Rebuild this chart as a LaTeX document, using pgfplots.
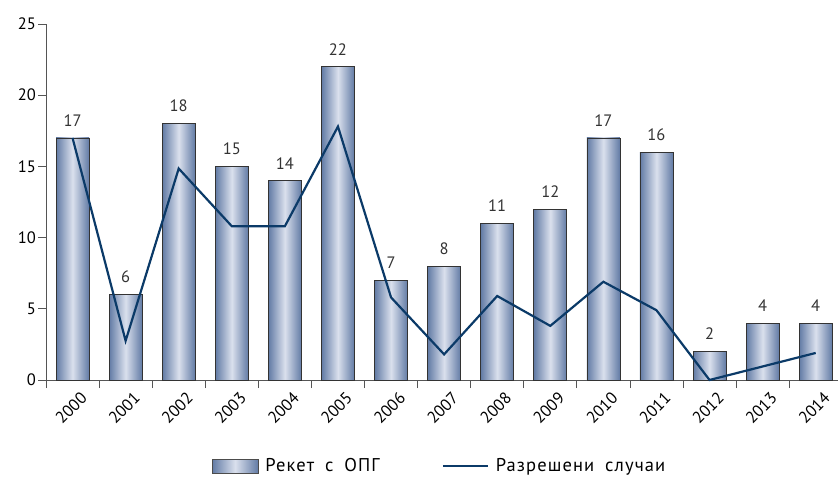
\documentclass[border=0pt]{standalone}
\usepackage{fontspec}
\setmainfont{PT Sans}
\newfontfamily\legfont[LetterSpace=6,WordSpace=1.8]{PT Sans}
\usepackage{pgfplots}
\pgfplotsset{compat=1.18}
\definecolor{barDark}{HTML}{627BA5}
\definecolor{barLight}{HTML}{DAE0ED}
\definecolor{lineBlue}{HTML}{0B3A68}
\definecolor{axGray}{HTML}{555555}
\pgfplotsset{onebar/.style={ybar, bar width=33pt, bar shift=0pt, draw=black!80, line width=0.6pt,
  left color=barDark, right color=barDark, middle color=barLight,
  nodes near coords, every node near coord/.append style={text=black!80, yshift=8pt}, forget plot}}
\begin{document}
\begin{tikzpicture}
\useasboundingbox (-46pt,-97pt) rectangle (792pt,380pt);
\begin{axis}[
  at={(0pt,0pt)}, anchor=south west,
  scale only axis, width=792pt, height=356pt,
  xmin=-0.5, xmax=14.42, ymin=0, ymax=25,
  axis x line*=bottom, axis y line*=left,
  axis line style={axGray, line width=0.8pt, -},
  xtick={0,...,14},
  xticklabels={2000,2001,2002,2003,2004,2005,2006,2007,2008,2009,2010,2011,2012,2013,2014},
  minor xtick={-0.5,0.5,...,14.5},
  major x tick style={draw=none},
  minor tick length=8pt, major tick length=8pt,
  tick align=outside,
  tick style={axGray, line width=0.8pt},
  ytick={0,5,...,25},
  xticklabel style={rotate=45, anchor=north east, inner sep=1pt, yshift=-6pt, xshift=4pt},
  yticklabel style={inner sep=2pt},
  /pgf/number format/assume math mode=true,
  font=\fontsize{16.5}{18}\selectfont,
  clip=false,
  legend columns=2,
  legend style={draw=none, fill=none, at={(0.497,-0.2416)}, anchor=center,
    /tikz/every even column/.append style={column sep=60pt},
    /tikz/every odd column/.append style={column sep=5pt},
    font=\legfont\fontsize{18.5}{20}\selectfont},
]
\addplot[onebar] coordinates {(0,17)};
\addplot[onebar] coordinates {(1,6)};
\addplot[onebar] coordinates {(2,18)};
\addplot[onebar] coordinates {(3,15)};
\addplot[onebar] coordinates {(4,14)};
\addplot[onebar] coordinates {(5,22)};
\addplot[onebar] coordinates {(6,7)};
\addplot[onebar] coordinates {(7,8)};
\addplot[onebar] coordinates {(8,11)};
\addplot[onebar] coordinates {(9,12)};
\addplot[onebar] coordinates {(10,17)};
\addplot[onebar] coordinates {(11,16)};
\addplot[onebar] coordinates {(12,2)};
\addplot[onebar] coordinates {(13,4)};
\addplot[onebar] coordinates {(14,4)};
\addlegendimage{legend image code/.code={\draw[draw=black!70, line width=0.5pt, left color=barDark, right color=barDark, middle color=barLight] (0pt,-7pt) rectangle (46pt,7pt);}}
\addlegendentry{Рекет с ОПГ}
\addplot[lineBlue, line width=2.2pt, mark=none,
  legend image code/.code={\draw[lineBlue, line width=2.2pt] (0pt,0pt) -- (45pt,0pt);}]
coordinates {(0,17) (1,2.75) (2,14.85) (3,10.8) (4,10.8) (5,17.8) (6,5.8) (7,1.8) (8,5.9) (9,3.8) (10,6.9) (11,4.9) (12,0) (13,0.95) (14,1.9)};
\addlegendentry{Разрешени случаи}
\end{axis}
\end{tikzpicture}
\end{document}
